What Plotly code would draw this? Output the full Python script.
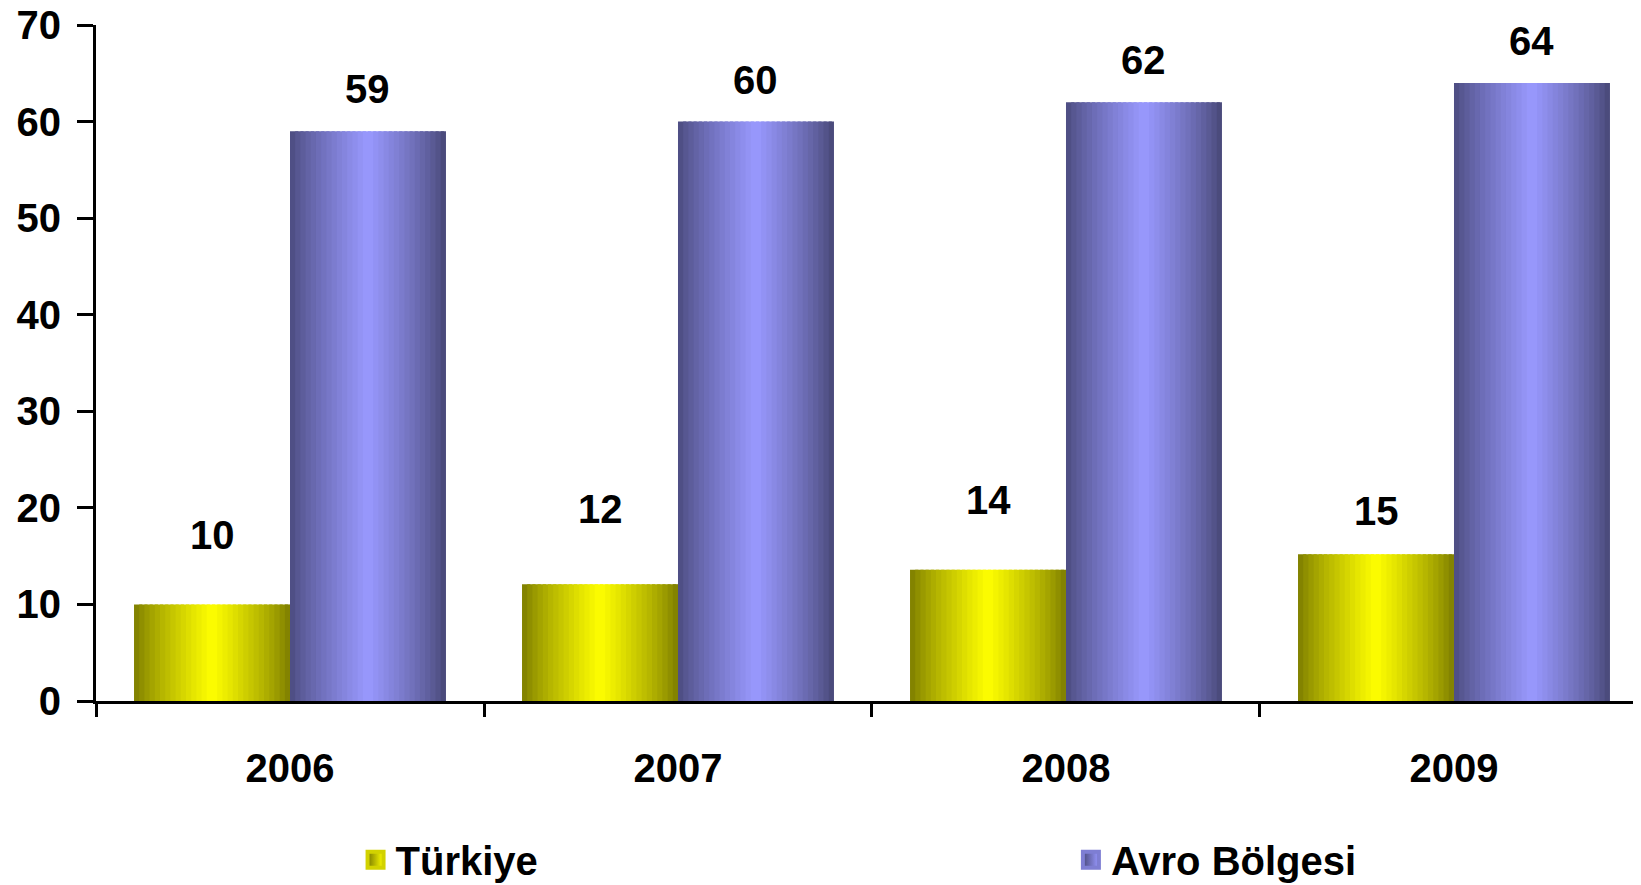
import plotly.graph_objects as go

# data
years = ['2006', '2007', '2008', '2009']
turkiye = [10.0, 12.1, 13.6, 15.2]
avro = [59.0, 60.0, 62.0, 64.0]
series_names = ['Türkiye', 'Avro Bölgesi']

# label lifts above bar tops (px) - as placed in the original
turkiye_lift = [69, 75, 70, 43]
avro_lift = [42, 42, 42, 42]

FONT = dict(family='Liberation Sans, Arial, sans-serif', size=40, color='black', weight='bold')

BAR_W = 0.402          # width of one bar in category units
N_STRIPS = 30          # strips used to fake the horizontal gradient
PX_PER_CAT = 388


def shade(dark_l, bright, dark_r, t):
    # cylinder-like profile, brightest around the middle
    if t <= 0.5:
        f = (t / 0.5) ** 0.8
        a, b = dark_l, bright
    else:
        f = ((1 - t) / 0.5) ** 0.8
        a, b = dark_r, bright
    c = [round(a[i] + (b[i] - a[i]) * f) for i in range(3)]
    return 'rgb(%d,%d,%d)' % tuple(c)


styles = [
    dict(vals=turkiye, start=-BAR_W, dl=(122, 122, 0), br=(255, 255, 0), dr=(122, 122, 0), legend='legend'),
    dict(vals=avro, start=0.0, dl=(74, 74, 124), br=(153, 153, 255), dr=(70, 70, 115), legend='legend2'),
]

fig = go.Figure()

for s in styles:
    step = BAR_W / N_STRIPS
    for k in range(N_STRIPS):
        t = (k + 0.5) / N_STRIPS
        off = s['start'] + k * step
        w = min(step * 1.6, s['start'] + BAR_W - off)
        fig.add_trace(go.Bar(
            x=years, y=s['vals'],
            offset=off, width=w,
            marker=dict(color=shade(s['dl'], s['br'], s['dr'], t), line=dict(width=0)),
            showlegend=False, hoverinfo='skip',
        ))

# legend entries with a gradient swatch
for name, s in zip(series_names, styles):
    fig.add_trace(go.Scatter(
        x=[None], y=[None], mode='markers', name=name, legend=s['legend'],
        marker=dict(symbol='square', size=16,
                    color='rgb(%d,%d,%d)' % s['dl'],
                    gradient=dict(type='horizontal', color='rgb(%d,%d,%d)' % s['br']),
                    line=dict(width=4, color=shade(s['dl'], s['br'], s['dr'], 0.3))),
    ))

# value labels (category axis -> use category index for annotations)
for s, lifts in zip(styles, [turkiye_lift, avro_lift]):
    for i, (v, lift) in enumerate(zip(s['vals'], lifts)):
        fig.add_annotation(
            x=i, y=v, xref='x', yref='y',
            text='%.0f' % v, showarrow=False,
            xshift=(s['start'] + BAR_W / 2) * PX_PER_CAT, yshift=lift,
            yanchor='middle', font=FONT,
        )

legend_common = dict(orientation='h', xanchor='left', y=-0.235, yanchor='middle',
                     font=FONT, bgcolor='rgba(0,0,0,0)')

# page body has an 8px margin, so the figure is made 8px smaller and shifted
fig.update_layout(
    width=1633, height=877,
    margin=dict(l=88, r=0, t=17, b=184, autoexpand=False),
    paper_bgcolor='white', plot_bgcolor='white',
    barmode='overlay',
    font=FONT,
    showlegend=True,
    legend=dict(x=0.168, **legend_common),
    legend2=dict(x=0.631, **legend_common),
    xaxis=dict(type='category', range=[-0.5, 3.482], showline=True, linecolor='black', linewidth=3,
               ticks='outside', tickson='boundaries', ticklen=13, tickwidth=3, tickcolor='black',
               showgrid=False, zeroline=False, tickfont=FONT, ticklabelstandoff=30,
               automargin=False),
    yaxis=dict(range=[0, 70], dtick=10, showline=True, linecolor='black', linewidth=3,
               ticks='outside', ticklen=16, tickwidth=3, tickcolor='black',
               showgrid=False, zeroline=False, tickfont=FONT, ticklabelstandoff=8,
               ticklabeloverflow='allow', automargin=False),
)

fig.write_html("out.html")
